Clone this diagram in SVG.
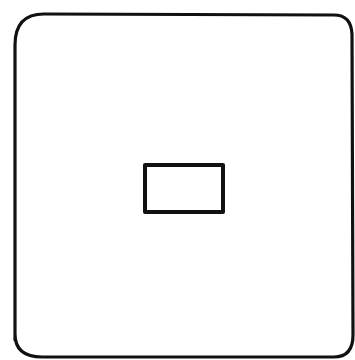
<svg xmlns="http://www.w3.org/2000/svg" width="355" height="360" viewBox="0 0 355 360">
<style>
.ln{fill:none;stroke:#111;stroke-linecap:round;stroke-linejoin:round}
</style>
<rect width="355" height="360" fill="#fff"/>
<g id="outer">
<path class="ln" stroke-width="3.2" d="M 15,340 L 15,45 Q 15,14 44,14 L 334,15 Q 351,15 352,34 L 353,335 Q 353,357 334,357 L 42,357 Q 15,357 15,334"/>
</g>
<g id="inner">
<rect class="ln" stroke-width="4" x="145" y="165" width="78" height="47"/>
</g>
</svg>
